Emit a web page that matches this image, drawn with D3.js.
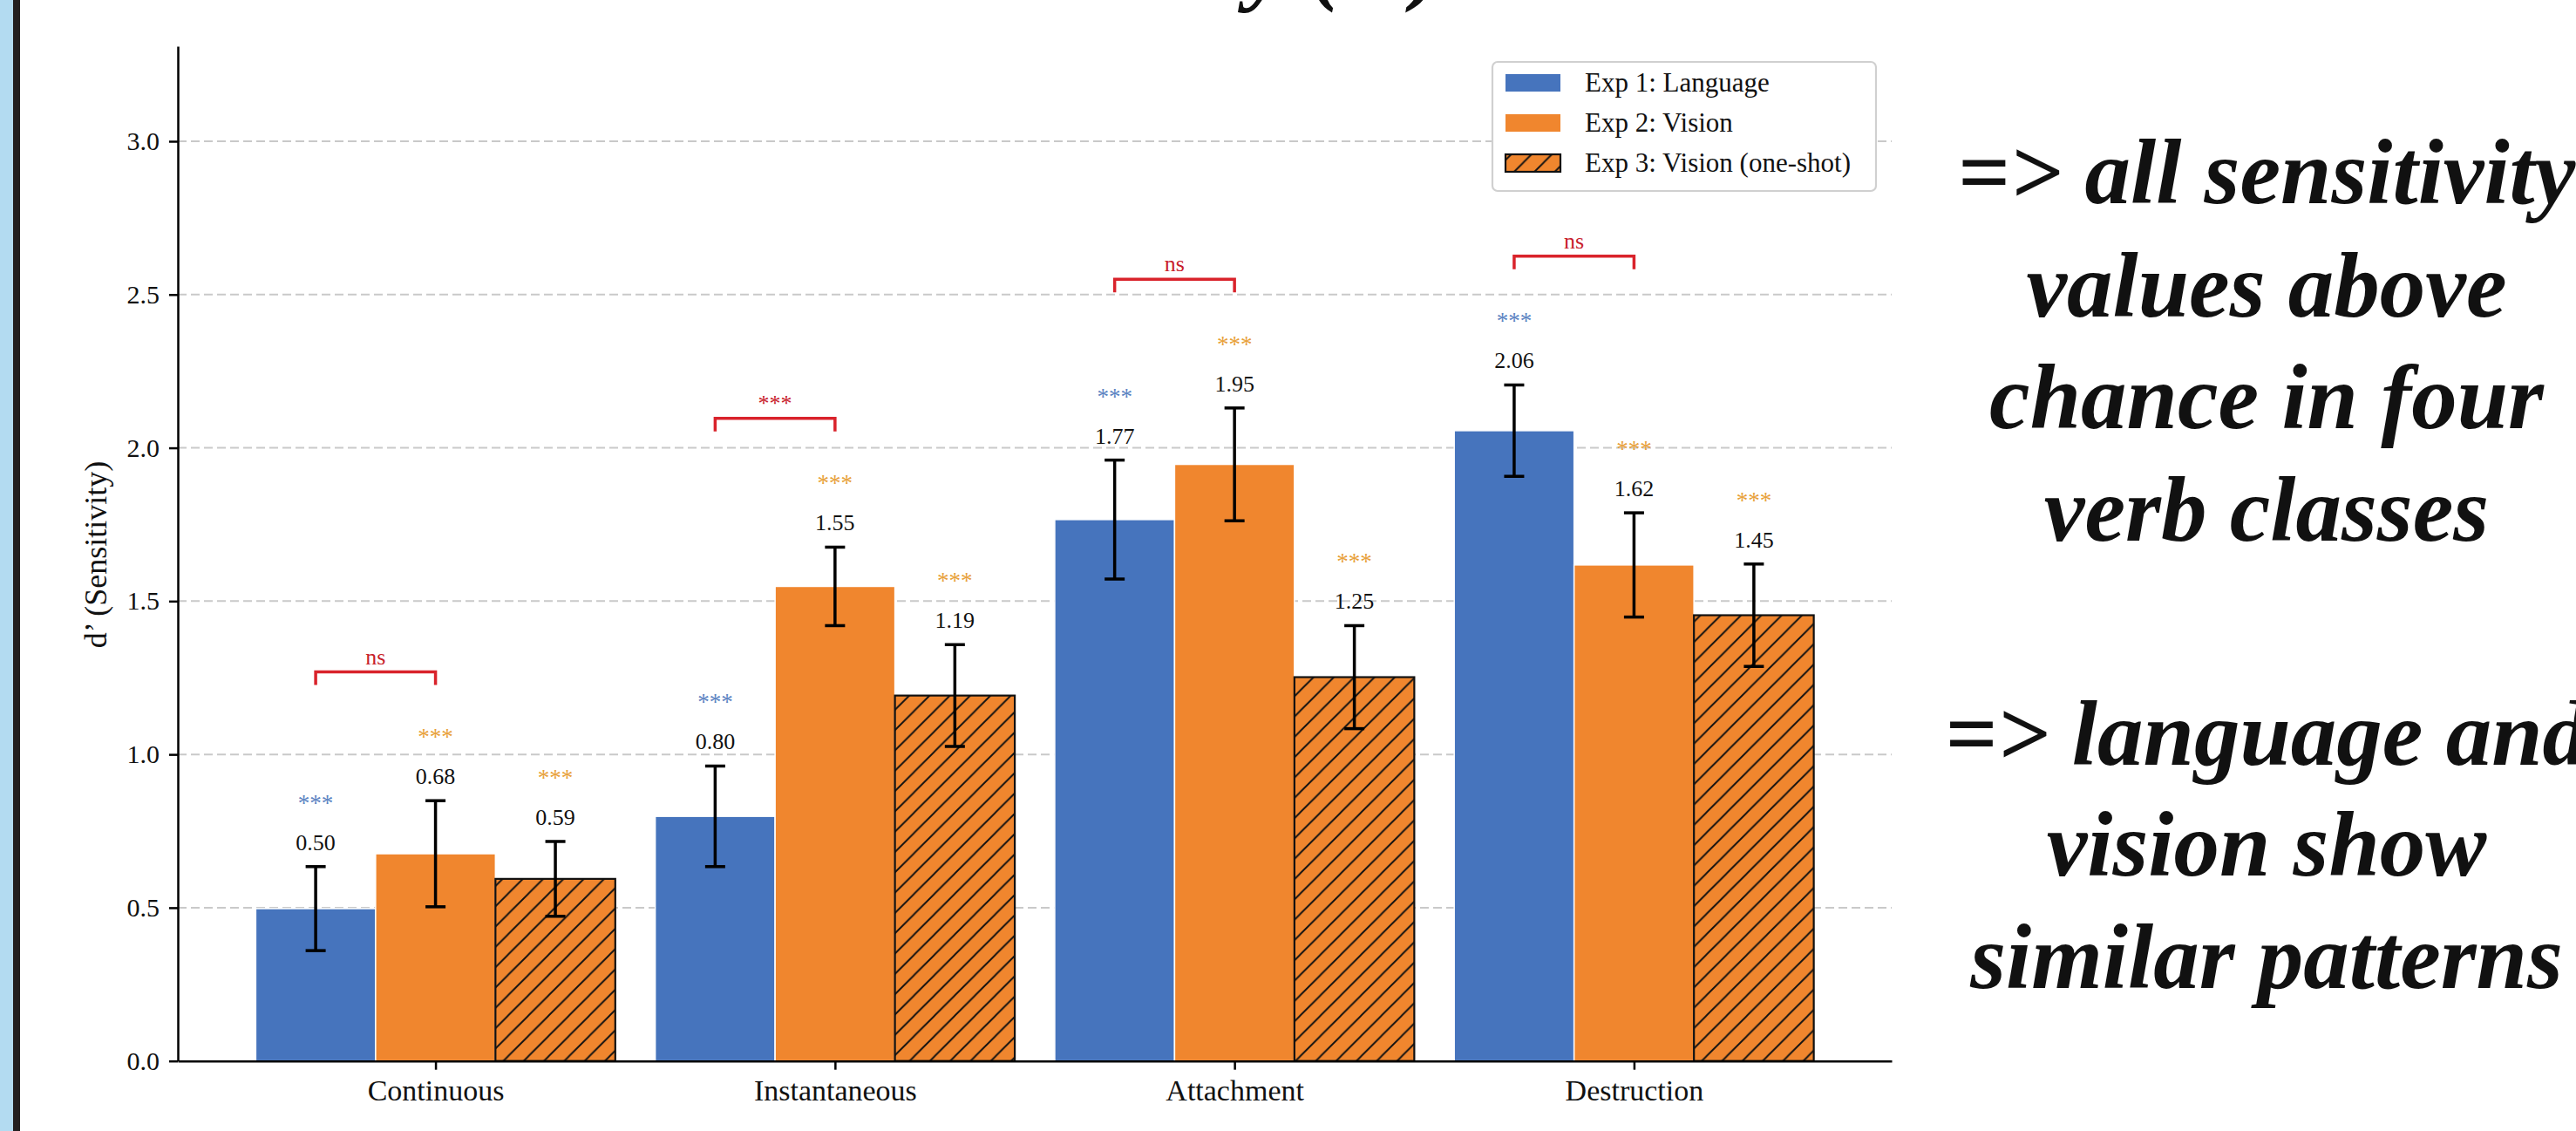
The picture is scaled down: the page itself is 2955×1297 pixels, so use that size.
<!DOCTYPE html>
<html>
<head>
<meta charset="utf-8">
<script src="https://cdn.jsdelivr.net/npm/d3@7"></script>
<style>
  html, body { margin: 0; padding: 0; background: #ffffff; }
  svg { display: block; }
</style>
</head>
<body>
<script>
// ---------------- data ----------------
const categories = ["Continuous", "Instantaneous", "Attachment", "Destruction"];
const seriesNames = ["Exp 1: Language", "Exp 2: Vision", "Exp 3: Vision (one-shot)"];
const exp1Values = [0.497, 0.798, 1.766, 2.056];
const exp2Values = [0.676, 1.548, 1.946, 1.618];
const exp3Values = [0.594, 1.192, 1.252, 1.454];
const exp1Err = [0.137, 0.164, 0.194, 0.149];
const exp2Err = [0.173, 0.128, 0.184, 0.170];
const exp3Err = [0.122, 0.166, 0.168, 0.167];
const exp1Sig = ["***", "***", "***", "***"];
const exp2Sig = ["***", "***", "***", "***"];
const exp3Sig = ["***", "***", "***", "***"];
const compareSig = ["ns", "***", "ns", "ns"];
const yTicks = [0, 0.5, 1.0, 1.5, 2.0, 2.5, 3.0];
const yLabel = "d\u2019 (Sensitivity)";
const titleText = "Sensitivity (d')";
const noteBlock1 = ["=> all sensitivity", "values above", "chance in four", "verb classes"];
const noteBlock2 = ["=> language and", "vision show", "similar patterns"];

// ---------------- setup ----------------
const W = 2955, H = 1297;
const FONT = "'Liberation Serif', 'Times New Roman', serif";
const BLUE = "#4674bd", ORANGE = "#f0862e";
const BLUE_STAR = "#5b83c2", ORANGE_STAR = "#e8a13a", RED = "#d9232b";

const series = [
  { name: seriesNames[0], values: exp1Values, err: exp1Err, sig: exp1Sig, off: -0.3, fill: BLUE, star: BLUE_STAR, hatch: false },
  { name: seriesNames[1], values: exp2Values, err: exp2Err, sig: exp2Sig, off: 0.0, fill: ORANGE, star: ORANGE_STAR, hatch: false },
  { name: seriesNames[2], values: exp3Values, err: exp3Err, sig: exp3Sig, off: 0.3, fill: ORANGE, star: ORANGE_STAR, hatch: true }
];
const barW = 0.3;

const svg = d3.select("body").append("svg").attr("width", W).attr("height", H)
  .style("font-family", FONT);

svg.append("rect").attr("width", W).attr("height", H).attr("fill", "#ffffff");

// hatch pattern
const defs = svg.append("defs");
const hs = 23.3;
const pat = defs.append("pattern").attr("id", "hatch").attr("patternUnits", "userSpaceOnUse")
  .attr("width", hs).attr("height", hs);
pat.append("path")
  .attr("d", `M0,${hs} L${hs},0 M${-hs/2},${hs/2} L${hs/2},${-hs/2} M${hs/2},${hs*1.5} L${hs*1.5},${hs/2}`)
  .attr("stroke", "#111").attr("stroke-width", 1.9);

// left page border
svg.append("rect").attr("x", 0).attr("y", 0).attr("width", 15).attr("height", H).attr("fill", "#b3dbf1");
svg.append("rect").attr("x", 15).attr("y", 0).attr("width", 8).attr("height", H).attr("fill", "#231f20");

// scales
const x = d3.scaleLinear().domain([-0.645, 3.645]).range([204, 2170]);
const y = d3.scaleLinear().domain([0, 3.31]).range([1216.7, 53]);

// gridlines
svg.append("g").selectAll("line").data(yTicks.filter(d => d > 0)).join("line")
  .attr("x1", x.range()[0]).attr("x2", x.range()[1])
  .attr("y1", d => y(d)).attr("y2", d => y(d))
  .attr("stroke", "#c9c9c9").attr("stroke-width", 2).attr("stroke-dasharray", "10,5");

// bars
const bw = x(barW) - x(0);
series.forEach(s => {
  const g = svg.append("g");
  const rows = categories.map((c, i) => ({ i, v: s.values[i], e: s.err[i] }));
  g.selectAll("rect.fill").data(rows).join("rect").attr("class", "fill")
    .attr("x", d => x(d.i + s.off) - bw / 2).attr("width", bw)
    .attr("y", d => y(d.v)).attr("height", d => y(0) - y(d.v))
    .attr("fill", s.fill)
    .attr("stroke", s.hatch ? "none" : "#ffffff").attr("stroke-width", s.hatch ? 0 : 1.5);
  if (s.hatch) {
    g.selectAll("rect.hatch").data(rows).join("rect").attr("class", "hatch")
      .attr("x", d => x(d.i + s.off) - bw / 2).attr("width", bw)
      .attr("y", d => y(d.v)).attr("height", d => y(0) - y(d.v))
      .attr("fill", "url(#hatch)").attr("stroke", "#111").attr("stroke-width", 2.2);
  }
});

// error bars, value labels, stars
series.forEach(s => {
  const g = svg.append("g");
  categories.forEach((c, i) => {
    const cx = x(i + s.off);
    const v = s.values[i], e = s.err[i];
    const yt = y(v + e), yb = y(v - e);
    g.append("line").attr("x1", cx).attr("x2", cx).attr("y1", yt).attr("y2", yb)
      .attr("stroke", "#000").attr("stroke-width", 3.5);
    [yt, yb].forEach(yy => g.append("line").attr("x1", cx - 11.5).attr("x2", cx + 11.5)
      .attr("y1", yy).attr("y2", yy).attr("stroke", "#000").attr("stroke-width", 3.5));
    g.append("text").attr("x", cx).attr("y", yt - 19).attr("text-anchor", "middle")
      .attr("font-size", 26).attr("fill", "#111").text(d3.format(".2f")(v));
    g.append("text").attr("x", cx).attr("y", yt - 64).attr("text-anchor", "middle")
      .attr("font-size", 27).attr("fill", s.star).text(s.sig[i]);
  });
});

// comparison brackets (Exp1 vs Exp2)
const bg = svg.append("g");
categories.forEach((c, i) => {
  const top = Math.max(exp1Values[i] + exp1Err[i], exp2Values[i] + exp2Err[i]) + 0.42;
  const x1 = x(i + series[0].off), x2 = x(i + series[1].off), yy = y(top);
  bg.append("path").attr("d", `M${x1},${yy + 15} V${yy} H${x2} V${yy + 15}`)
    .attr("fill", "none").attr("stroke", RED).attr("stroke-width", 3.5);
  bg.append("text").attr("x", (x1 + x2) / 2).attr("y", yy - 9).attr("text-anchor", "middle")
    .attr("font-size", 26).attr("fill", "#c8202a").text(compareSig[i]);
});

// axes
const yAxis = svg.append("g").attr("transform", `translate(${x.range()[0]},0)`)
  .call(d3.axisLeft(y).tickValues(yTicks).tickFormat(d3.format(".1f")).tickSize(10).tickSizeOuter(0).tickPadding(11));
const xAxis = svg.append("g").attr("transform", `translate(0,${y(0)})`)
  .call(d3.axisBottom(x).tickValues([0, 1, 2, 3]).tickFormat(i => categories[i]).tickSize(10).tickSizeOuter(0).tickPadding(11));
[yAxis, xAxis].forEach(a => {
  a.select(".domain").attr("stroke", "#000").attr("stroke-width", 2.5);
  a.selectAll(".tick line").attr("stroke", "#000").attr("stroke-width", 2.5);
  a.selectAll(".tick text").attr("fill", "#111").style("font-family", FONT);
});
yAxis.selectAll(".tick text").attr("font-size", 30);
xAxis.selectAll(".tick text").attr("font-size", 34);

// y label
svg.append("text").attr("transform", "translate(122,636) rotate(-90)")
  .attr("text-anchor", "middle").attr("font-size", 36).attr("fill", "#111").text(yLabel);

// legend
const lg = svg.append("g");
lg.append("rect").attr("x", 1712).attr("y", 71).attr("width", 440).attr("height", 148).attr("rx", 6)
  .attr("fill", "#ffffff").attr("stroke", "#d0d0d0").attr("stroke-width", 2.2);
series.forEach((s, k) => {
  const cy = 95 + k * 46;
  lg.append("rect").attr("x", 1727).attr("y", cy - 10).attr("width", 63).attr("height", 20)
    .attr("fill", s.fill);
  if (s.hatch) {
    lg.append("rect").attr("x", 1727).attr("y", cy - 10).attr("width", 63).attr("height", 20)
      .attr("fill", "url(#hatch)").attr("stroke", "#111").attr("stroke-width", 2.2);
  }
  lg.append("text").attr("x", 1818).attr("y", cy + 10).attr("font-size", 31).attr("fill", "#111").text(s.name);
});

// title (mostly off the top edge)
svg.append("text").attr("x", 1655).attr("y", -8).attr("text-anchor", "end")
  .attr("font-size", 105).attr("font-weight", "bold").attr("font-style", "italic")
  .attr("fill", "#111").text(titleText);

// right-hand notes
const notes = svg.append("g").attr("font-size", 105).attr("font-weight", "bold")
  .attr("font-style", "italic").attr("fill", "#111").attr("text-anchor", "middle");
const base1 = [233, 363, 491, 620], base2 = [877, 1004, 1133];
notes.selectAll("text.n1").data(noteBlock1).join("text").attr("class", "n1")
  .attr("x", 2600).attr("y", (d, k) => base1[k]).text(d => d);
notes.selectAll("text.n2").data(noteBlock2).join("text").attr("class", "n2")
  .attr("x", 2600).attr("y", (d, k) => base2[k]).text(d => d);
</script>
</body>
</html>
